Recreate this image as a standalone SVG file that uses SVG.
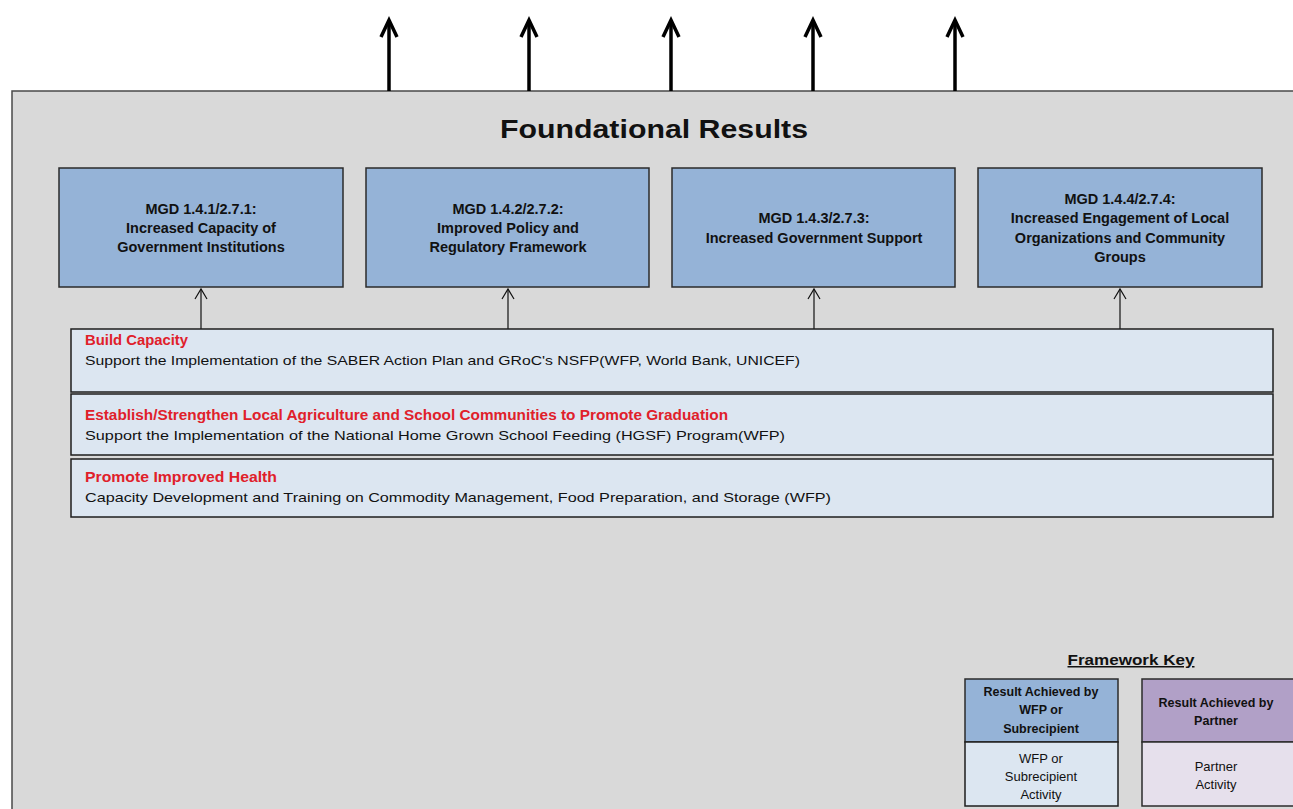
<svg xmlns="http://www.w3.org/2000/svg" width="1293" height="809" viewBox="0 0 1293 809">
<style>
.panel{fill:#d9d9d9;stroke:#4a4a4a;stroke-width:1.5}
.res{fill:#95b3d7;stroke:#2b2b2b;stroke-width:1.5}
.act{fill:#dce6f1;stroke:#1e1e1e;stroke-width:1.5}
.pres{fill:#b1a0c7;stroke:#2b2b2b;stroke-width:1.5}
.pact{fill:#e6e0ec;stroke:#2b2b2b;stroke-width:1.5}
.t{font-family:"Liberation Sans",Arial,sans-serif;fill:#111}
.rb{font-size:14.5px;font-weight:bold;text-anchor:middle}
.red{font-size:14.5px;font-weight:bold;fill:#e0202a}
.body{font-size:13.5px}
.kb{font-size:12.5px;font-weight:bold;text-anchor:middle}
.kn{font-size:13px;text-anchor:middle}
.big{stroke:#000;stroke-width:3.5;fill:none}
.thin{stroke:#111;stroke-width:1.2;fill:none}
</style>
<defs>
<marker id="bigHead" markerUnits="userSpaceOnUse" markerWidth="24" markerHeight="24" refX="20" refY="10" orient="auto" viewBox="0 0 24 20" overflow="visible">
<path d="M3 2 L20 10 L3 18" fill="none" stroke="#000" stroke-width="3.5" stroke-linejoin="miter"/>
</marker>
<marker id="open" markerUnits="userSpaceOnUse" markerWidth="12" markerHeight="14" refX="10" refY="7" orient="auto" viewBox="0 0 12 14" overflow="visible">
<path d="M0 1 L10 7 L0 13" fill="none" stroke="#111" stroke-width="1.2"/>
</marker>
</defs>
<rect x="0" y="0" width="1293" height="809" fill="#fff"/>
<g id="panel">
<rect class="panel" x="12" y="91" width="1295" height="730"/>
<text class="t" x="654" y="138" font-size="26" font-weight="bold" text-anchor="middle" textLength="308" lengthAdjust="spacingAndGlyphs">Foundational Results</text>
</g>
<g id="connectors">
<line class="big" x1="389" y1="91" x2="389" y2="20" marker-end="url(#bigHead)"/>
<line class="big" x1="529" y1="91" x2="529" y2="20" marker-end="url(#bigHead)"/>
<line class="big" x1="671" y1="91" x2="671" y2="20" marker-end="url(#bigHead)"/>
<line class="big" x1="813" y1="91" x2="813" y2="20" marker-end="url(#bigHead)"/>
<line class="big" x1="955" y1="91" x2="955" y2="20" marker-end="url(#bigHead)"/>
<line class="thin" x1="201" y1="329" x2="201" y2="289" marker-end="url(#open)"/>
<line class="thin" x1="508" y1="329" x2="508" y2="289" marker-end="url(#open)"/>
<line class="thin" x1="814" y1="329" x2="814" y2="289" marker-end="url(#open)"/>
<line class="thin" x1="1120" y1="329" x2="1120" y2="289" marker-end="url(#open)"/>
</g>
<g id="r1">
<rect class="res" x="59" y="168" width="284" height="119"/>
<text class="t rb" x="201" y="214">MGD 1.4.1/2.7.1:</text>
<text class="t rb" x="201" y="233">Increased Capacity of</text>
<text class="t rb" x="201" y="252">Government Institutions</text>
</g>
<g id="r2">
<rect class="res" x="366" y="168" width="283" height="119"/>
<text class="t rb" x="508" y="214">MGD 1.4.2/2.7.2:</text>
<text class="t rb" x="508" y="233">Improved Policy and</text>
<text class="t rb" x="508" y="252">Regulatory Framework</text>
</g>
<g id="r3">
<rect class="res" x="672" y="168" width="283" height="119"/>
<text class="t rb" x="814" y="223">MGD 1.4.3/2.7.3:</text>
<text class="t rb" x="814" y="243">Increased Government Support</text>
</g>
<g id="r4">
<rect class="res" x="978" y="168" width="284" height="119"/>
<text class="t rb" x="1120" y="204">MGD 1.4.4/2.7.4:</text>
<text class="t rb" x="1120" y="223">Increased Engagement of Local</text>
<text class="t rb" x="1120" y="243">Organizations and Community</text>
<text class="t rb" x="1120" y="262">Groups</text>
</g>
<g id="a1">
<rect class="act" x="71" y="329" width="1202" height="63"/>
<text class="t red" x="85" y="345" textLength="103" lengthAdjust="spacingAndGlyphs">Build Capacity</text>
<text class="t body" x="85" y="365" textLength="715" lengthAdjust="spacingAndGlyphs">Support the Implementation of the SABER Action Plan and GRoC's NSFP(WFP, World Bank, UNICEF)</text>
</g>
<g id="a2">
<rect class="act" x="71" y="394" width="1202" height="61"/>
<text class="t red" x="85" y="420" textLength="643" lengthAdjust="spacingAndGlyphs">Establish/Strengthen Local Agriculture and School Communities to Promote Graduation</text>
<text class="t body" x="85" y="440" textLength="700" lengthAdjust="spacingAndGlyphs">Support the Implementation of the National Home Grown School Feeding (HGSF) Program(WFP)</text>
</g>
<g id="a3">
<rect class="act" x="71" y="459" width="1202" height="58"/>
<text class="t red" x="85" y="482" textLength="192" lengthAdjust="spacingAndGlyphs">Promote Improved Health</text>
<text class="t body" x="85" y="502" textLength="746" lengthAdjust="spacingAndGlyphs">Capacity Development and Training on Commodity Management, Food Preparation, and Storage (WFP)</text>
</g>
<g id="key">
<text class="t" x="1131" y="665" font-size="15" font-weight="bold" text-anchor="middle" text-decoration="underline" textLength="127" lengthAdjust="spacingAndGlyphs">Framework Key</text>
</g>
<g id="k1">
<rect class="res" x="965" y="679" width="153" height="63"/>
<rect class="act" x="965" y="742" width="153" height="64"/>
<text class="t kb" x="1041" y="696">Result Achieved by</text>
<text class="t kb" x="1041" y="714">WFP or</text>
<text class="t kb" x="1041" y="733">Subrecipient</text>
<text class="t kn" x="1041" y="763">WFP or</text>
<text class="t kn" x="1041" y="781">Subrecipient</text>
<text class="t kn" x="1041" y="799">Activity</text>
</g>
<g id="k2">
<rect class="pres" x="1142" y="679" width="160" height="63"/>
<rect class="pact" x="1142" y="742" width="160" height="64"/>
<text class="t kb" x="1216" y="707">Result Achieved by</text>
<text class="t kb" x="1216" y="725">Partner</text>
<text class="t kn" x="1216" y="771">Partner</text>
<text class="t kn" x="1216" y="789">Activity</text>
</g>
</svg>
